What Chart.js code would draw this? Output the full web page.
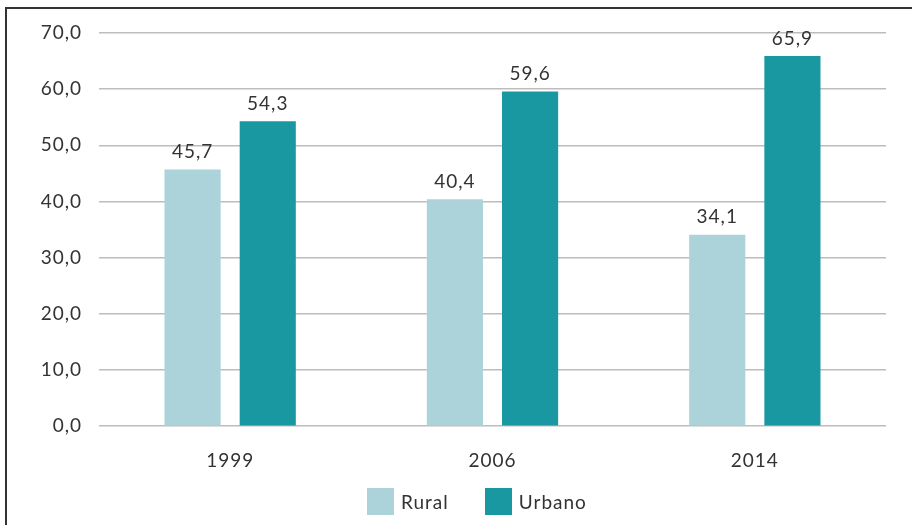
<!DOCTYPE html>
<html>
<head>
<meta charset="utf-8">
<script src="https://cdn.jsdelivr.net/npm/chart.js@4.4.1/dist/chart.umd.min.js"></script>
<style>
    html, body { margin: 0; padding: 0; background: #fff; overflow: hidden; }
    #frame {
        position: absolute; left: 5px; top: 7px;
        width: 920px; height: 540px;
        border: 2px solid #333;
    }
    #wrap { position: absolute; left: 0; top: 0; width: 912px; height: 525px; }
    #legend {
        position: absolute; left: 367px; top: 488px; height: 27px;
        display: flex; align-items: center;
        font: 19px Lato, "Open Sans", sans-serif; letter-spacing: 1px; color: #333;
    }
    #legend .item { display: flex; align-items: center; margin-right: 36px; }
    #legend .box { width: 27px; height: 27px; margin-right: 7px; }
</style>
</head>
<body>
<div id="frame"></div>
<div id="wrap"><canvas id="chart"></canvas></div>
<div id="legend"></div>
<script>
// Données
const annees = ['1999', '2006', '2014'];
const rural = [45.7, 40.4, 34.1];
const urbano = [54.3, 59.6, 65.9];
const yTicks = [0, 10, 20, 30, 40, 50, 60, 70];
const series = ['Rural', 'Urbano'];
const couleurs = ['#acd3da', '#1a98a2'];

const FONT = 'Lato, "Open Sans", sans-serif';
const fmt = v => v.toFixed(1).replace('.', ',');

// Espacement des lettres (police large comme l'original)
const spacing = {
    id: 'spacing',
    beforeLayout(chart) { chart.ctx.letterSpacing = '1px'; },
    beforeDraw(chart) { chart.ctx.letterSpacing = '1px'; }
};

// Étiquettes de valeur au-dessus des barres
const valueLabels = {
    id: 'valueLabels',
    afterDatasetsDraw(chart) {
        const ctx = chart.ctx;
        ctx.save();
        ctx.font = '19px ' + FONT;
        ctx.fillStyle = '#333';
        ctx.textAlign = 'center';
        ctx.textBaseline = 'bottom';
        chart.data.datasets.forEach((ds, i) => {
            chart.getDatasetMeta(i).data.forEach((bar, j) => {
                ctx.fillText(fmt(ds.data[j]), bar.x, bar.y - 8);
            });
        });
        ctx.restore();
    }
};

const chart = new Chart(document.getElementById('chart'), {
    type: 'bar',
    data: {
        labels: annees,
        datasets: [
            { label: series[0], data: rural, backgroundColor: couleurs[0], categoryPercentage: 0.573, barPercentage: 0.747 },
            { label: series[1], data: urbano, backgroundColor: couleurs[1], categoryPercentage: 0.573, barPercentage: 0.747 }
        ]
    },
    options: {
        responsive: true,
        maintainAspectRatio: false,
        animation: false,
        layout: { padding: { top: 33, right: 26, bottom: 38, left: 0 } },
        plugins: {
            legend: { display: false },
            tooltip: { enabled: false }
        },
        scales: {
            x: {
                grid: { display: false },
                border: { display: false },
                ticks: {
                    color: '#333',
                    padding: 15,
                    font: { family: FONT, size: 19 }
                }
            },
            y: {
                min: 0,
                max: 70,
                afterFit: scale => { scale.width = 99; },
                afterBuildTicks: scale => { scale.ticks = yTicks.map(v => ({ value: v })); },
                grid: { color: '#bdbdbd', lineWidth: 1.5, drawTicks: false },
                border: { display: false },
                ticks: {
                    color: '#333',
                    padding: 17,
                    callback: v => fmt(v),
                    font: { family: FONT, size: 19 }
                }
            }
        }
    },
    plugins: [spacing, valueLabels]
});

// Légende HTML construite à partir des jeux de données
document.getElementById('legend').innerHTML = chart.data.datasets.map(ds => `
    <div class="item"><div class="box" style="background:${ds.backgroundColor}"></div>${ds.label}</div>
`).join('');
</script>
</body>
</html>
